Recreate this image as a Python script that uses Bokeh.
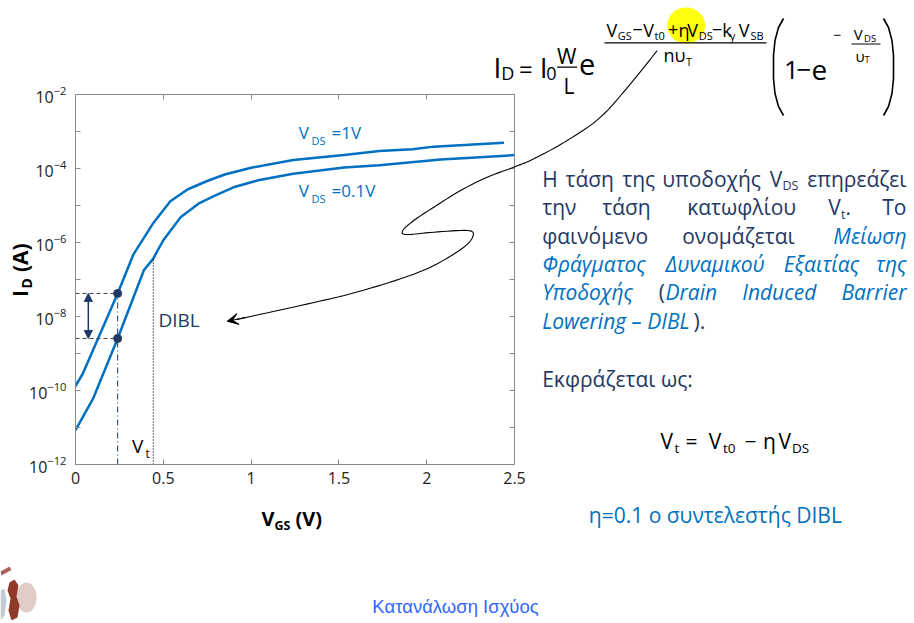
import numpy as np
from bokeh.plotting import figure
from bokeh.models import (Range1d, FixedTicker, LogAxis, LinearAxis, Label, Arrow,
                          NormalHead, VeeHead, NumeralTickFormatter, LogTickFormatter, GridBox)
from bokeh.embed import file_html
from bokeh.resources import INLINE

# ---------------- data ----------------
vgs_vds1 = [-0.06, 0.04, 0.24, 0.33, 0.44, 0.54, 0.64, 0.75, 0.85, 1.00,
            1.24, 1.53, 1.73, 1.92, 2.04, 2.44]
id_vds1 = [4.5e-11, 2.75e-10, 4.2e-8, 4.8e-7, 3.2e-6, 1.3e-5, 2.75e-5, 4.6e-5,
           6.9e-5, 1.05e-4, 1.7e-4, 2.3e-4, 2.95e-4, 3.3e-4, 3.9e-4, 5.0e-4]

vgs_vds01 = [0.00, 0.10, 0.24, 0.39, 0.44, 0.50, 0.60, 0.70, 0.80, 0.90,
             1.04, 1.24, 1.53, 1.73, 2.08, 2.50]
id_vds01 = [8.5e-12, 6.0e-11, 2.55e-9, 1.8e-7, 3.5e-7, 1.15e-6, 4.9e-6, 1.12e-5,
            1.9e-5, 3.1e-5, 4.8e-5, 7.2e-5, 1.07e-4, 1.23e-4, 1.74e-4, 2.3e-4]

x_ticks = [0, 0.5, 1, 1.5, 2, 2.5]
y_ticks = [1e-12, 1e-10, 1e-8, 1e-6, 1e-4, 1e-2]
y_minor = [1e-11, 1e-9, 1e-7, 1e-5, 1e-3]

dibl_vgs = 0.24
dibl_id = [4.2e-8, 2.55e-9]
arrow_vgs = 0.073
vt_vgs = 0.443
vt_id = 3.6e-7

# ---------------- styling ----------------
BLUE = "#0070c0"
NAVY = "#1f3864"
GRAY = "#8a8a8a"
FONT = "Open Sans"

W, H = 912, 620
FL, FR, FT, FB = 75, 514, 94, 464   # chart frame edges in page pixels

# ================= chart figure =================
p = figure(width=W, height=H, y_axis_type="log",
           x_range=Range1d(0, 2.5), y_range=Range1d(1e-12, 1e-2),
           output_backend="svg", toolbar_location=None,
           min_border_left=FL, min_border_right=W - FR,
           min_border_top=FT, min_border_bottom=H - FB)
p.frame_align = False
p.background_fill_color = "white"
p.border_fill_color = "white"
p.outline_line_color = GRAY
p.xgrid.grid_line_color = None
p.ygrid.grid_line_color = None


def style_axis(ax, labels=True):
    ax.axis_line_color = GRAY
    ax.major_tick_line_color = GRAY
    ax.minor_tick_line_color = GRAY
    ax.major_tick_in = 5
    ax.major_tick_out = 0
    ax.minor_tick_in = 5
    ax.minor_tick_out = 0
    ax.major_label_text_font = FONT
    ax.major_label_text_color = "#222222"
    ax.major_label_text_font_size = "16px"
    if not labels:
        ax.major_label_text_alpha = 0


p.xaxis.ticker = FixedTicker(ticks=x_ticks)
p.xaxis.formatter = NumeralTickFormatter(format="0.[0]")
p.yaxis.ticker = FixedTicker(ticks=y_ticks, minor_ticks=y_minor)
p.yaxis.formatter = LogTickFormatter()
style_axis(p.xaxis[0])
style_axis(p.yaxis[0])
p.xaxis.major_label_standoff = 7
p.yaxis.major_label_standoff = 9

ra = LogAxis(ticker=FixedTicker(ticks=y_ticks, minor_ticks=y_minor))
style_axis(ra, labels=False)
p.add_layout(ra, "right")
ta = LinearAxis(ticker=FixedTicker(ticks=x_ticks))
style_axis(ta, labels=False)
p.add_layout(ta, "above")

p.line(vgs_vds1, id_vds1, line_color=BLUE, line_width=2.5)
p.line(vgs_vds01, id_vds01, line_color=BLUE, line_width=2.5)
p.segment(x0=[0, 0], y0=dibl_id, x1=[dibl_vgs, dibl_vgs], y1=dibl_id,
          line_color="#404040", line_width=1, line_dash="4 3")
p.segment(x0=[dibl_vgs], y0=[y_ticks[0]], x1=[dibl_vgs], y1=[dibl_id[0]],
          line_color=NAVY, line_width=1, line_dash="6 3 1 3")
p.segment(x0=[vt_vgs], y0=[y_ticks[0]], x1=[vt_vgs], y1=[vt_id],
          line_color="black", line_width=1.2, line_dash="1 2")
p.scatter([dibl_vgs, dibl_vgs], dibl_id, size=8, color=NAVY)
p.add_layout(Arrow(x_start=arrow_vgs, y_start=dibl_id[1], x_end=arrow_vgs, y_end=dibl_id[0],
                   start=NormalHead(size=8, fill_color=NAVY, line_color=NAVY),
                   end=NormalHead(size=8, fill_color=NAVY, line_color=NAVY),
                   line_color=NAVY, line_width=1.5))

# ================= decoration overlay (page pixel coordinates) =================
d = figure(width=W, height=H, x_range=Range1d(0, W), y_range=Range1d(H, 0),
           output_backend="svg", toolbar_location=None,
           x_axis_location=None, y_axis_location=None,
           min_border_left=0, min_border_right=0, min_border_top=0, min_border_bottom=0)
d.frame_align = False
d.xgrid.grid_line_color = None
d.ygrid.grid_line_color = None
d.background_fill_alpha = 0
d.border_fill_alpha = 0
d.outline_line_color = None

MID = {FONT: 0.388, "Liberation Sans": 0.3465}


def txt(px, py, s, size, color="black", style="normal", align="left",
        baseline="alphabetic", font=FONT, angle=0.0):
    if baseline == "alphabetic":      # place by the alphabetic baseline via the box middle
        py = py - MID[font] * size
        baseline = "middle"
    d.add_layout(Label(x=px, y=py, text=s, text_font=font, text_font_size=f"{size}px",
                       text_color=color, text_font_style=style,
                       text_align=align, text_baseline=baseline, angle=angle))


def path(pts, width=1.0, color="black"):
    d.line([a for a, b in pts], [b for a, b in pts], line_color=color, line_width=width)


def blob(pts, color, alpha=1.0):
    d.patch([a for a, b in pts], [b for a, b in pts], fill_color=color,
            fill_alpha=alpha, line_color=None)


def smooth(pts, n=8):
    out = []
    P = [pts[0]] + list(pts) + [pts[-1]]
    for i in range(1, len(P) - 2):
        p0, p1, p2, p3 = (np.array(P[i - 1]), np.array(P[i]),
                          np.array(P[i + 1]), np.array(P[i + 2]))
        for t in np.linspace(0, 1, n, endpoint=False):
            t2, t3 = t * t, t * t * t
            q = 0.5 * ((2 * p1) + (-p0 + p2) * t + (2 * p0 - 5 * p1 + 4 * p2 - p3) * t2
                       + (-p0 + 3 * p1 - 3 * p2 + p3) * t3)
            out.append((float(q[0]), float(q[1])))
    out.append(pts[-1])
    return out


th = np.linspace(0, 2 * np.pi, 48)
# yellow highlight (behind formula)
blob([(685.7 + 19 * np.cos(a), 25 + 18 * np.sin(a)) for a in th], "#ffff00", 0.95)

# in-plot labels
txt(298.3, 139, "V", 17, BLUE)
txt(311, 144, "DS", 11, BLUE)
txt(331, 139, "=1V", 17, BLUE)
txt(298.3, 196.7, "V", 17, BLUE)
txt(311, 202, "DS", 11, BLUE)
txt(331, 196.7, "=0.1V", 17, BLUE)
txt(158, 327.3, "DIBL", 19, NAVY)
txt(131.5, 453, "V", 19, "black")
txt(145, 457.7, "t", 12, "black")

# axis titles
txt(19, 296.5, "I", 21, "black", "bold", "left", "middle", angle=np.pi / 2)
txt(26, 288, "D", 14, "black", "bold", "left", "middle", angle=np.pi / 2)
txt(19, 271.5, "(A)", 21, "black", "bold", "left", "middle", angle=np.pi / 2)
txt(261, 526, "V", 20, "black", "bold")
txt(274, 530, "GS", 12.5, "black", "bold")
txt(295, 526, "(V)", 20, "black", "bold")

# formula on top
txt(493, 77, "I", 28)
txt(500.7, 79.5, "D", 18)
txt(518.5, 77, "=", 24)
txt(539.3, 77, "I", 28)
txt(545.7, 79.5, "0", 18)
txt(556.5, 63.3, "W", 21)
path([(556.7, 66.7), (576.7, 66.7)], 1.2)
txt(563, 93.3, "L", 21)
txt(578.5, 75, "e", 29)
num = [(606, 36, "V", 18), (617.3, 39.5, "GS", 11), (632, 36, "\u2212", 18),
       (642.7, 36, "V", 18), (654, 39.5, "t0", 11), (667.5, 36, "+", 18),
       (678, 36, "\u03b7", 18), (686.7, 36, "V", 18), (698.3, 39.5, "DS", 11),
       (711.5, 36, "\u2212", 18), (721.7, 36, "k", 18), (729.3, 39.5, "\u03b3", 11),
       (738.3, 36, "V", 18), (750, 39.5, "SB", 11)]
for x_, y_, s_, f_ in num:
    txt(x_, y_, s_, f_)
path([(604, 42.3), (766, 42.3)], 1.2)
txt(663, 61.5, "n\u03c5", 18)
txt(685.5, 65, "T", 11)
path([(783, 18), (778, 27), (774.5, 40), (773, 55), (773, 78), (774.5, 93),
      (778, 106), (783, 115)], 1.6)
path([(883, 18), (888, 27), (891.5, 40), (893, 55), (893, 78), (891.5, 93),
      (888, 106), (883, 115)], 1.6)
txt(783.5, 80, "1", 26)
txt(796, 80, "\u2212", 26)
txt(811, 80, "e", 28)
txt(833, 40, "\u2212", 14)
txt(853.3, 39, "V", 15)
txt(863.5, 41.5, "DS", 9.5)
path([(851, 43.5), (880, 43.5)], 1.0)
txt(855, 61, "\u03c5", 15)
txt(864, 63, "T", 9.5)

# black curved arrow
curve = [(656.7, 50), (630, 83.3), (600, 116.7), (566.7, 140), (533.3, 158.3),
         (515, 166), (486.7, 176.7), (460, 190), (433.3, 206.7), (413.3, 220),
         (402.3, 230), (406, 234), (433.3, 231.7), (466.7, 230), (472.7, 235),
         (463.3, 246.7), (433.3, 265), (400, 278.3), (350, 293.3), (300, 305),
         (250, 316), (236, 319)]
path(smooth(curve), 1.1)
d.add_layout(Arrow(x_start=245, y_start=317, x_end=226.7, y_end=320.7,
                   end=VeeHead(size=11, fill_color="black", line_color="black"),
                   line_color="black", line_width=1.1))

# paragraph
FS = 21
L0, R0 = 541.7, 906


def line_words(base, words):
    for x_, s_, col, sty, fs, dy in words:
        txt(x_, base + dy, s_, fs, col, sty)


b1 = 160 + 80 / 3
line_words(b1, [(L0, "\u0397", NAVY, "normal", FS, 0), (565, "\u03c4\u03ac\u03c3\u03b7", NAVY, "normal", FS, 0),
                (621.7, "\u03c4\u03b7\u03c2", NAVY, "normal", FS, 0),
                (661.7, "\u03c5\u03c0\u03bf\u03b4\u03bf\u03c7\u03ae\u03c2", NAVY, "normal", FS, 0),
                (769.3, "V", NAVY, "normal", FS, 0), (782, "DS", NAVY, "normal", 12.5, 3.5)])
txt(R0, b1, "\u03b5\u03c0\u03b7\u03c1\u03b5\u03ac\u03b6\u03b5\u03b9", FS, NAVY, align="right")

b2 = 160 + 165 / 3
line_words(b2, [(L0, "\u03c4\u03b7\u03bd", NAVY, "normal", FS, 0), (601.7, "\u03c4\u03ac\u03c3\u03b7", NAVY, "normal", FS, 0),
                (686.7, "\u03ba\u03b1\u03c4\u03c9\u03c6\u03bb\u03af\u03bf\u03c5", NAVY, "normal", FS, 0),
                (827.7, "V", NAVY, "normal", FS, 0), (840.5, "t", NAVY, "normal", 12.5, 3.5),
                (845, ".", NAVY, "normal", FS, 0)])
txt(R0, b2, "\u03a4\u03bf", FS, NAVY, align="right")

b3 = 160 + 250 / 3
line_words(b3, [(L0, "\u03c6\u03b1\u03b9\u03bd\u03cc\u03bc\u03b5\u03bd\u03bf", NAVY, "normal", FS, 0),
                (681.7, "\u03bf\u03bd\u03bf\u03bc\u03ac\u03b6\u03b5\u03c4\u03b1\u03b9", NAVY, "normal", FS, 0)])
txt(R0, b3, "\u039c\u03b5\u03af\u03c9\u03c3\u03b7", FS, BLUE, "italic", align="right")

b4 = 160 + 335 / 3
line_words(b4, [(L0, "\u03a6\u03c1\u03ac\u03b3\u03bc\u03b1\u03c4\u03bf\u03c2", BLUE, "italic", FS, 0),
                (665, "\u0394\u03c5\u03bd\u03b1\u03bc\u03b9\u03ba\u03bf\u03cd", BLUE, "italic", FS, 0),
                (783.3, "\u0395\u03be\u03b1\u03b9\u03c4\u03af\u03b1\u03c2", BLUE, "italic", FS, 0)])
txt(R0, b4, "\u03c4\u03b7\u03c2", FS, BLUE, "italic", align="right")

b5 = 160 + 420 / 3
line_words(b5, [(L0, "\u03a5\u03c0\u03bf\u03b4\u03bf\u03c7\u03ae\u03c2", BLUE, "italic", FS, 0),
                (658.3, "(", NAVY, "normal", FS, 0),
                (665, "Drain", BLUE, "italic", FS, 0),
                (741.7, "Induced", BLUE, "italic", FS, 0)])
txt(R0, b5, "Barrier", FS, BLUE, "italic", align="right")

b6 = 160 + 505 / 3
line_words(b6, [(L0, "Lowering \u2013 DIBL", BLUE, "italic", FS, 0),
                (693, ").", NAVY, "normal", FS, 0)])

txt(L0, 160 + 680 / 3, "\u0395\u03ba\u03c6\u03c1\u03ac\u03b6\u03b5\u03c4\u03b1\u03b9 \u03c9\u03c2:", FS, NAVY)

bv = 448.3
txt(660, bv, "V", 21)
txt(674, bv + 4, "t", 13.5)
txt(685, bv, "=", 21)
txt(708.3, bv, "V", 21)
txt(722.5, bv + 4, "t0", 13.5)
txt(744, bv, "\u2212", 21)
txt(762.5, bv, "\u03b7", 21)
txt(778, bv, "V", 21)
txt(791.5, bv + 4, "DS", 13.5)

txt(588.3, 522.7, "\u03b7=0.1  \u03bf \u03c3\u03c5\u03bd\u03c4\u03b5\u03bb\u03b5\u03c3\u03c4\u03ae\u03c2 DIBL", 21, BLUE)

# footer and logo
txt(455, 612, "\u039a\u03b1\u03c4\u03b1\u03bd\u03ac\u03bb\u03c9\u03c3\u03b7 \u0399\u03c3\u03c7\u03cd\u03bf\u03c2", 18.5, "#3366ff",
    align="center", font="Liberation Sans")

blob([(0, 571), (9, 566), (11, 569.5), (1, 575)], "#a0524a", 0.9)
blob([(26 + 10 * np.cos(a), 597 + 15 * np.sin(a)) for a in th], "#b08070", 0.4)
blob([(9, 582), (14, 579), (18, 585), (16, 596), (19, 605), (17, 617), (11, 620),
      (8, 610), (10, 598), (7, 590)], "#8b2f1e", 0.95)
blob([(0, 590), (4, 588), (6, 600), (4, 615), (0, 620)], "#9aa7b8", 0.6)

root = GridBox(children=[(p, 0, 0), (d, 0, 0)])
open("out.html", "w").write(file_html(root, INLINE))
